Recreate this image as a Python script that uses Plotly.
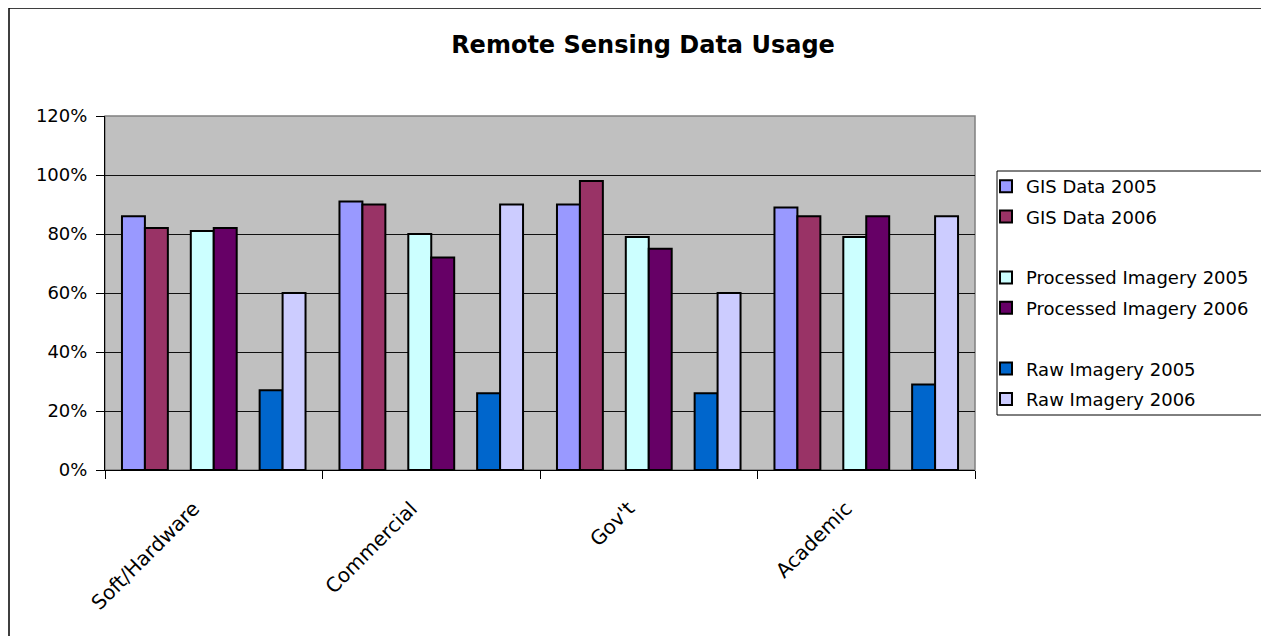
import plotly.graph_objects as go

# ---- data ----
categories = ["Soft/Hardware", "Commercial", "Gov't", "Academic"]
gis_2005 = [0.86, 0.91, 0.90, 0.89]
gis_2006 = [0.82, 0.90, 0.98, 0.86]
blank_a = [0, 0, 0, 0]
proc_2005 = [0.81, 0.80, 0.79, 0.79]
proc_2006 = [0.82, 0.72, 0.75, 0.86]
blank_b = [0, 0, 0, 0]
raw_2005 = [0.27, 0.26, 0.26, 0.29]
raw_2006 = [0.60, 0.90, 0.60, 0.86]

series_names = ["GIS Data 2005", "GIS Data 2006", " ", "Processed Imagery 2005",
                "Processed Imagery 2006", "  ", "Raw Imagery 2005", "Raw Imagery 2006"]
series_values = [gis_2005, gis_2006, blank_a, proc_2005, proc_2006, blank_b, raw_2005, raw_2006]
series_colors = ["#9999FF", "#993366", None, "#CCFFFF", "#660066", None, "#0066CC", "#CCCCFF"]

FONT = "DejaVu Sans"
W, H = 1269, 636
OFF = 8  # page body margin
PL, PR, PT, PB = 105, 975, 116, 470  # plot area in page px


def px_x(px):
    return (px - PL) / (PR - PL)


def px_y(py):
    return (PB - py) / (PB - PT)


fig = go.Figure()
for i, (name, vals, col) in enumerate(zip(series_names, series_values, series_colors)):
    if col is None:
        fig.add_trace(go.Bar(
            x=categories, y=vals, name=name, legendgroup=f"g{i}",
            marker=dict(color="rgba(0,0,0,0)", line=dict(width=0)),
            hoverinfo="skip",
        ))
    else:
        fig.add_trace(go.Bar(
            x=categories, y=vals, name=name, legendgroup=f"g{i}",
            marker=dict(color=col, line=dict(color="black", width=2)),
        ))

fig.update_layout(
    width=W, height=H,
    margin=dict(l=PL - OFF, r=W - (PR - OFF), t=PT - OFF, b=H - (PB - OFF)),
    paper_bgcolor="white",
    plot_bgcolor="#C0C0C0",
    barmode="group",
    bargap=0.156,
    bargroupgap=0,
    font=dict(family=FONT, color="black", size=18),
    title=dict(
        text="<b>Remote Sensing Data Usage</b>",
        font=dict(family=FONT, size=24, color="black"),
        x=(643 - OFF) / W, xanchor="center", xref="container",
        y=1 - (45 - OFF) / H, yanchor="middle", yref="container",
    ),
    legend=dict(
        x=px_x(986), y=px_y(168), xanchor="left", yanchor="top",
        bgcolor="rgba(0,0,0,0)", borderwidth=0,
        font=dict(family=FONT, size=18, color="black"),
        traceorder="grouped", tracegroupgap=4,
    ),
    xaxis=dict(
        type="category",
        showline=True, linecolor="black", linewidth=1,
        ticks="outside", ticklen=8, tickcolor="black", tickwidth=1,
        tickson="boundaries",
        tickangle=-45,
        ticklabelshift=-20, ticklabelstandoff=18,
        tickfont=dict(family=FONT, size=20, color="black"),
        showgrid=False,
    ),
    yaxis=dict(
        range=[0, 1.2], dtick=0.2, tickformat=".0%",
        showline=True, linecolor="black", linewidth=1,
        ticks="outside", ticklen=8, tickcolor="black", tickwidth=1,
        ticklabelstandoff=5,
        tickfont=dict(family=FONT, size=18, color="black"),
        showgrid=True, gridcolor="#101010", gridwidth=1,
        zeroline=False,
    ),
    shapes=[
        # plot area border (grey)
        dict(type="rect", xref="paper", yref="paper", x0=0, x1=1, y0=0, y1=1,
             line=dict(color="#808080", width=1.5), layer="below"),
        # legend box
        dict(type="rect", xref="paper", yref="paper",
             x0=px_x(997), x1=px_x(1290), y0=px_y(415), y1=px_y(171),
             line=dict(color="black", width=1), fillcolor="white", layer="below"),
        # outer chart border
        dict(type="rect", xref="paper", yref="paper",
             x0=px_x(9), x1=px_x(1290), y0=px_y(660), y1=px_y(8),
             line=dict(color="black", width=1.5), layer="below"),
    ],
)

fig.write_html("out.html")
